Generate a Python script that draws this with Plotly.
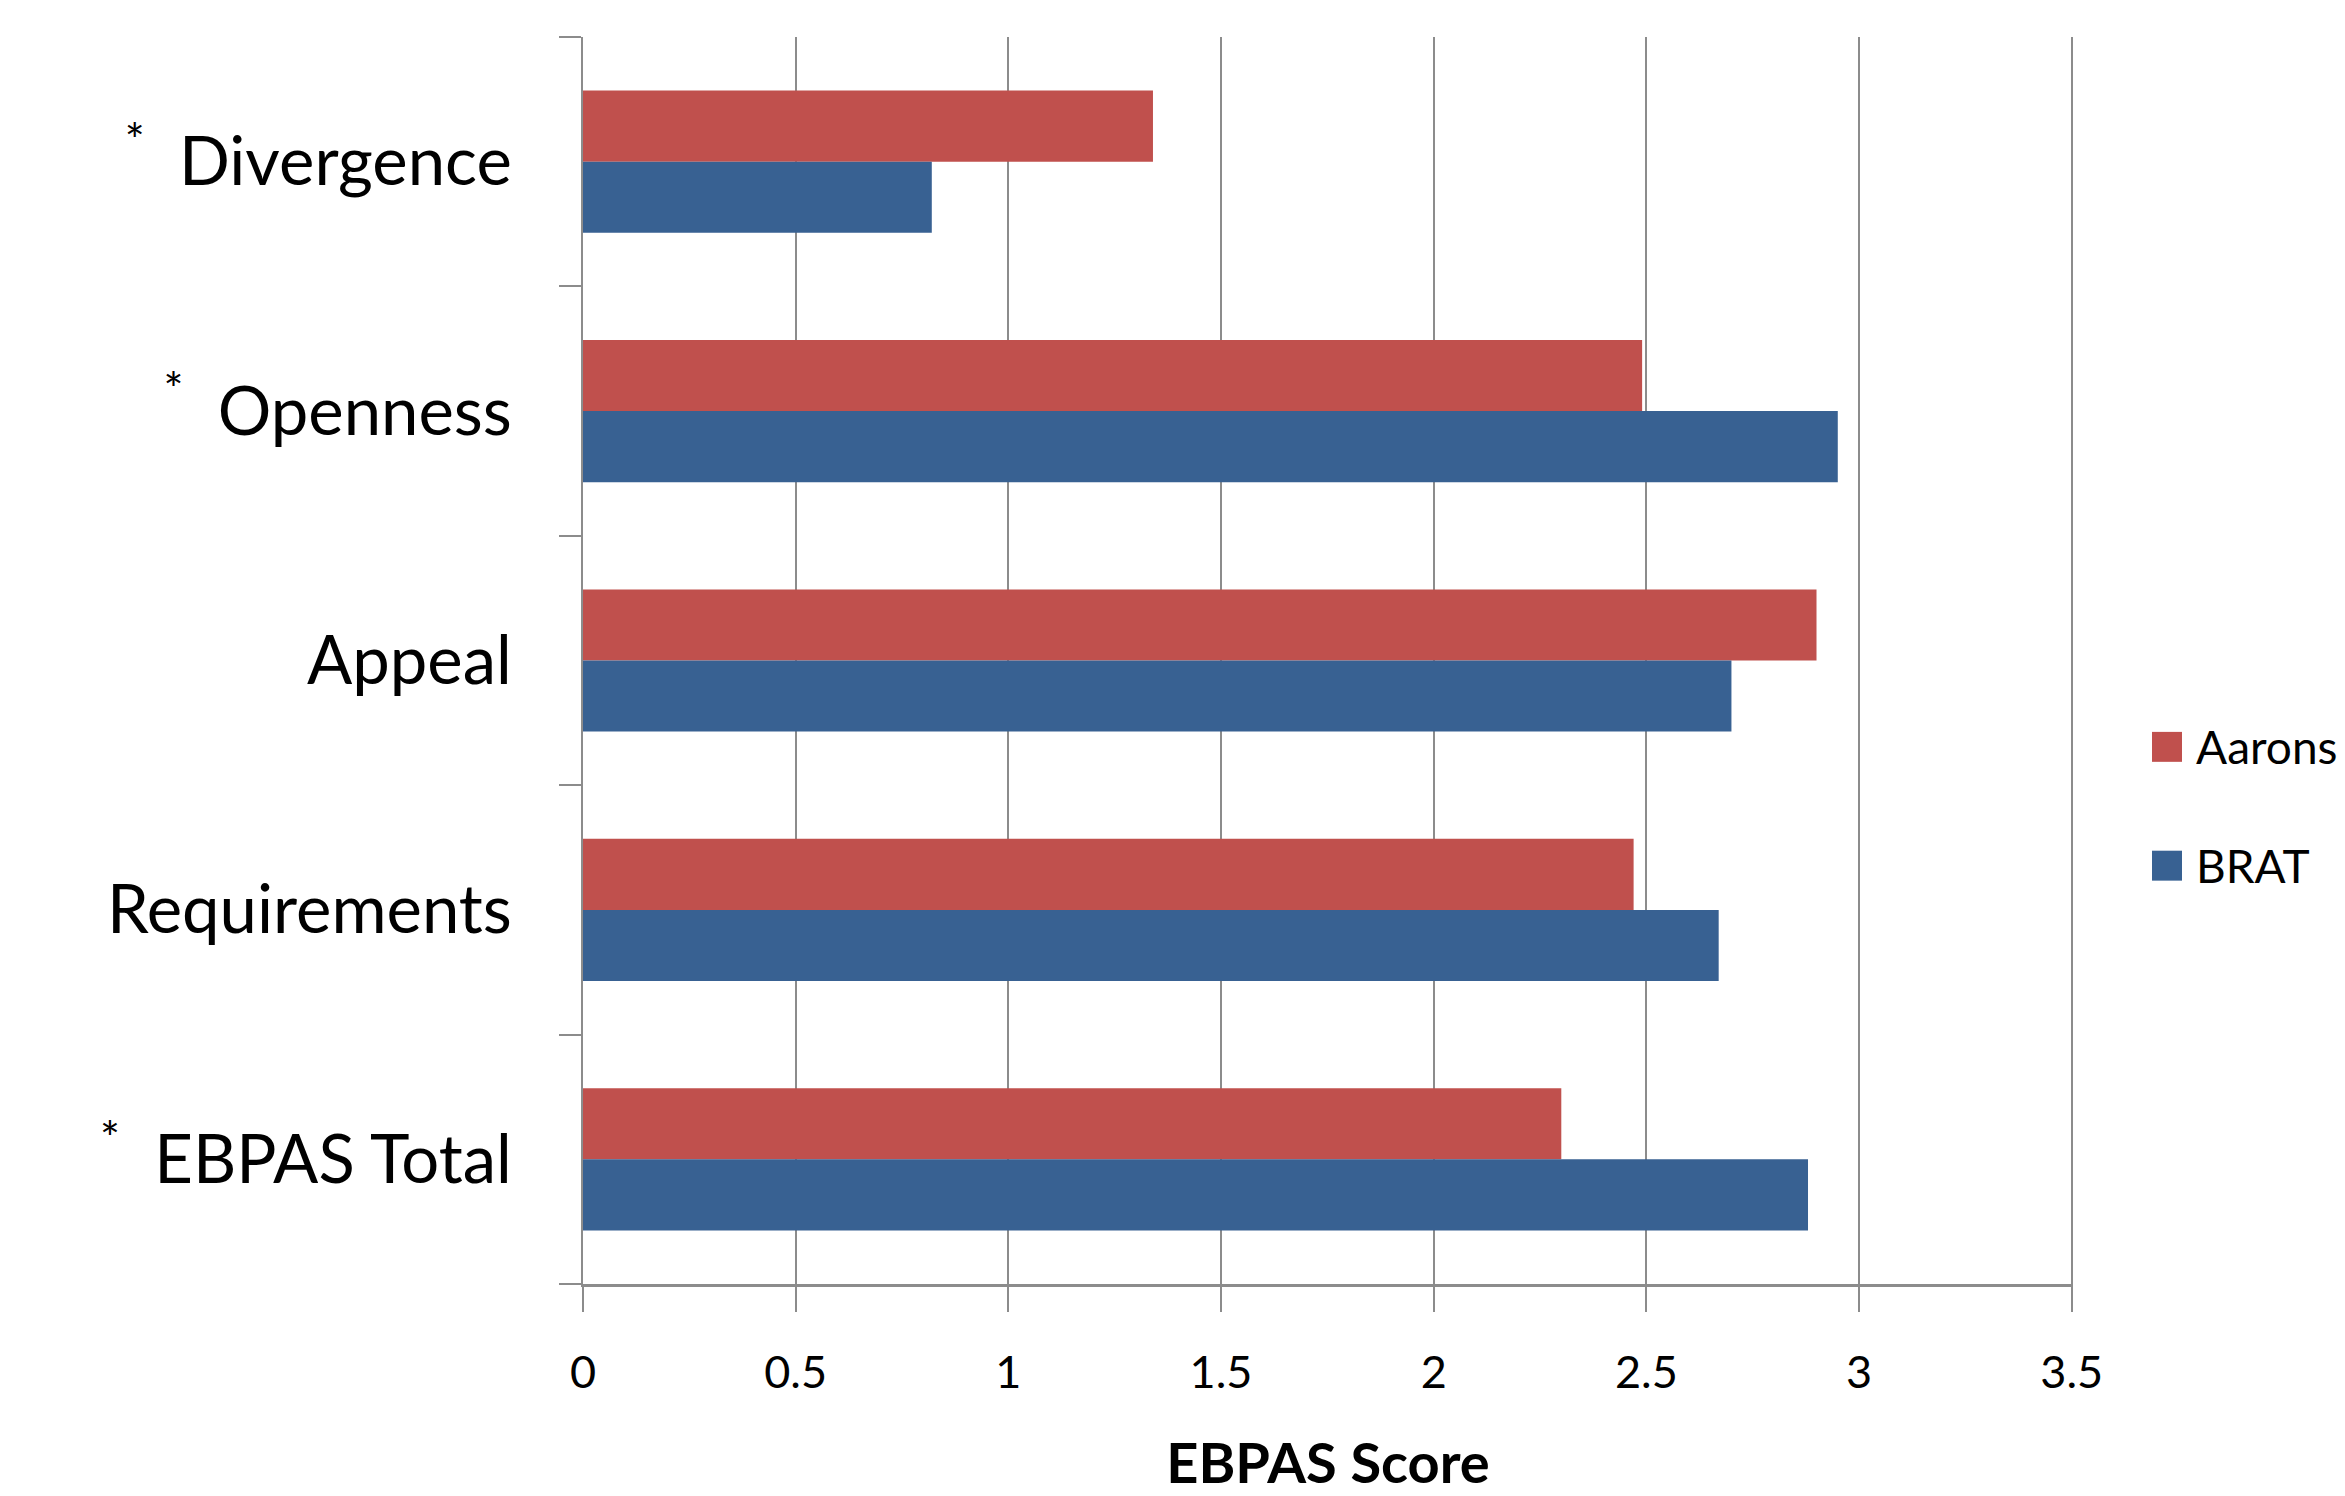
import plotly.graph_objects as go

categories = ["Divergence", "Openness", "Appeal", "Requirements", "EBPAS Total"]
significant = [True, True, False, False, True]
series_names = ["Aarons", "BRAT"]
aarons = [1.34, 2.49, 2.90, 2.47, 2.30]
brat = [0.82, 2.95, 2.70, 2.67, 2.88]
colors = ["#C0504D", "#386192"]
x_ticks = [0, 0.5, 1, 1.5, 2, 2.5, 3, 3.5]
x_title = "EBPAS Score"

tick_text = [("<sup>*</sup>&nbsp;&nbsp;" + c) if s else c for c, s in zip(categories, significant)]

fig = go.Figure()
for name, vals, col in zip(series_names, [aarons, brat], colors):
    fig.add_trace(go.Bar(
        y=categories, x=vals, name=name, orientation="h",
        marker=dict(color=col, line=dict(width=0)),
        showlegend=False,
    ))

W, H = 2345, 1496
ml, mr, mt, mb = 583, 272, 37, 210

fig.update_layout(
    width=W, height=H,
    margin=dict(l=ml, r=mr, t=mt, b=mb, pad=0),
    paper_bgcolor="white", plot_bgcolor="white",
    barmode="group", bargap=0.43, bargroupgap=0,
    font=dict(family="Lato", color="black"),
)
fig.update_xaxes(
    range=[0, 3.503], tickvals=x_ticks, ticktext=[f"{v:g}" for v in x_ticks],
    showgrid=True, gridcolor="#8C8C8C", gridwidth=1.5,
    zeroline=False, showline=True, linecolor="#8C8C8C", linewidth=3,
    ticks="outside", ticklen=25, tickcolor="#8C8C8C", tickwidth=1.5,
    tickfont=dict(size=45, family="Lato"), ticklabelstandoff=22,
    title=dict(text="<b>" + x_title + "</b>", font=dict(size=56, family="Lato"), standoff=47),
)
fig.update_yaxes(
    autorange="reversed", tickvals=categories, ticktext=tick_text,
    tickson="boundaries", ticks="outside", ticklen=22, tickcolor="#8C8C8C", tickwidth=1.5,
    showline=True, linecolor="#8C8C8C", linewidth=1.5, showgrid=False, zeroline=False,
    tickfont=dict(size=67, family="Lato"), ticklabelstandoff=56,
)

# legend drawn in paper coordinates
leg_y = [748, 867]
for name, col, yc in zip(series_names, colors, leg_y):
    fig.add_shape(type="rect", xref="paper", yref="paper",
                  x0=(2152 - ml) / (W - ml - mr), x1=(2182 - ml) / (W - ml - mr),
                  y0=(H - mb - (yc + 15)) / (H - mt - mb), y1=(H - mb - (yc - 15)) / (H - mt - mb),
                  fillcolor=col, line=dict(width=0))
    fig.add_annotation(xref="paper", yref="paper",
                       x=(2194 - ml) / (W - ml - mr), y=(H - mb - yc) / (H - mt - mb),
                       text=name, showarrow=False, xanchor="left", yanchor="middle",
                       font=dict(size=46, family="Lato", color="black"))

fig.write_html("out.html")
